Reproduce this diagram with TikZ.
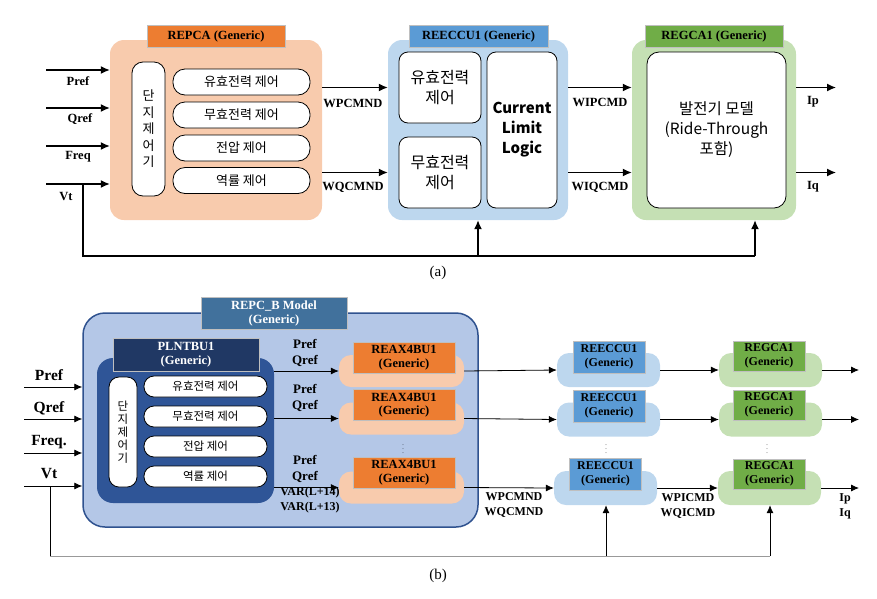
\documentclass[tikz,border=0pt]{standalone}
\usepackage{fontspec}
\setmainfont{Liberation Serif}
\newfontfamily\kor{Noto Sans CJK KR}
\usetikzlibrary{arrows.meta}

\definecolor{peach}{HTML}{F8CBAD}
\definecolor{orng}{HTML}{ED7D31}
\definecolor{skyb}{HTML}{BDD7EE}
\definecolor{midb}{HTML}{5B9BD5}
\definecolor{leaf}{HTML}{C5E0B4}
\definecolor{grn}{HTML}{70AD47}
\definecolor{pcfill}{HTML}{B4C7E7}
\definecolor{pcline}{HTML}{2F528F}
\definecolor{pctab}{HTML}{41719C}
\definecolor{plfill}{HTML}{2F5597}
\definecolor{pltab}{HTML}{203864}

\tikzset{
    panel/.style={rounded corners=14pt, inner sep=0pt, draw=none},
    tab/.style={draw=black!25, line width=0.6pt, inner sep=0pt, align=center,
        font=\bfseries\fontsize{12.5}{13.5}\selectfont},
    kbox/.style={draw=black, line width=0.8pt, fill=white, inner sep=0pt,
        align=center, font=\kor\fontsize{13}{16.5}\selectfont},
    lbl/.style={font=\bfseries\fontsize{12.5}{14}\selectfont, align=center},
    dotz/.style={inner sep=0pt, font=\fontsize{6}{6}\selectfont},
    arr/.style={line width=1.3pt, -{Latex[length=9pt,width=8pt]}},
    arrb/.style={line width=0.8pt, -{Latex[length=8pt,width=7pt]}},
}

\begin{document}
\begin{tikzpicture}[x=1pt,y=-1pt]
    \useasboundingbox (0,0) rectangle (877,598);

    % (a) REPCA
    \node[panel, fill=peach, minimum width=212pt, minimum height=180pt] (repca) at (216,130) {};
    \node[tab, fill=orng, minimum width=138pt, minimum height=22pt] (repcaT) at (216,36) {REPCA (Generic)};
    \node[kbox, rounded corners=11pt, minimum width=33pt, minimum height=134pt] (ctrlA) at (148.5,129)
        {단\\지\\제\\어\\기};
    \node[kbox, rounded corners=12pt, minimum width=137pt, minimum height=26pt] (a1) at (241.5,82) {유효전력 제어};
    \node[kbox, rounded corners=12pt, minimum width=137pt, minimum height=26pt] (a2) at (241.5,115) {무효전력 제어};
    \node[kbox, rounded corners=12pt, minimum width=137pt, minimum height=26pt] (a3) at (241.5,148) {전압 제어};
    \node[kbox, rounded corners=12pt, minimum width=137pt, minimum height=26pt] (a4) at (241.5,180.5) {역률 제어};

    % (a) REECCU1
    \node[panel, fill=skyb, minimum width=180pt, minimum height=180pt] (reeccu) at (478,130) {};
    \node[tab, fill=midb, minimum width=139pt, minimum height=22pt] (reeccuT) at (478.5,36) {REECCU1 (Generic)};
    \node[kbox, rounded corners=9pt, minimum width=82pt, minimum height=71pt,
        font=\kor\fontsize{16}{20}\selectfont] (pA) at (440,87.5) {유효전력\\제어};
    \node[kbox, rounded corners=9pt, minimum width=82pt, minimum height=71pt,
        font=\kor\fontsize{16}{20}\selectfont] (qA) at (440,172.5) {무효전력\\제어};
    \node[kbox, rounded corners=9pt, minimum width=70pt, minimum height=156pt,
        font=\kor\bfseries\fontsize{15}{20}\selectfont] (cll) at (522,130) {Current\\Limit\\Logic};

    % (a) REGCA1
    \node[panel, fill=leaf, minimum width=164pt, minimum height=180pt] (regca) at (714,130) {};
    \node[tab, fill=grn, minimum width=138pt, minimum height=22pt] (regcaT) at (714,36) {REGCA1 (Generic)};
    \node[kbox, rounded corners=12pt, minimum width=139pt, minimum height=156pt,
        font=\kor\fontsize{15.5}{20}\selectfont] (gen) at (716.5,130) {발전기 모델\\(Ride-Through\\포함)};

    % (a) signals
    \coordinate (inP) at (46,70);
    \coordinate (inQ) at (46,108);
    \coordinate (inF) at (46,146);
    \coordinate (inV) at (46,184);
    \draw[arr] (inP) -- (inP -| repca.west);
    \draw[arr] (inQ) -- (inQ -| repca.west);
    \draw[arr] (inF) -- (inF -| repca.west);
    \draw[arr] (inV) -- (inV -| repca.west);
    \node[lbl] (lP) at (78,81) {Pref};
    \node[lbl] (lQ) at (80,119) {Qref};
    \node[lbl] (lF) at (78,157) {Freq};
    \node[lbl] (lV) at (66,196) {Vt};

    \draw[arr] (repca.east |- pA) -- (reeccu.west |- pA);
    \draw[arr] (repca.east |- qA) -- (reeccu.west |- qA);
    \node[lbl] (lwp) at (353,103) {WPCMND};
    \node[lbl] (lwq) at (353,187) {WQCMND};
    \draw[arr] (reeccu.east |- pA) -- (regca.west |- pA);
    \draw[arr] (reeccu.east |- qA) -- (regca.west |- qA);
    \node[lbl] (lwip) at (600,102) {WIPCMD};
    \node[lbl] (lwiq) at (600,187) {WIQCMD};
    \coordinate (ipE) at (836,87.5);
    \coordinate (iqE) at (836,172.5);
    \draw[arr] (regca.east |- pA) -- (ipE);
    \draw[arr] (regca.east |- qA) -- (iqE);
    \node[lbl] (lip) at (813,102) {Ip};
    \node[lbl] (liq) at (813,187) {Iq};

    \coordinate (fbA) at (83,184);
    \coordinate (fbB) at (755,256);
    \coordinate (fbC) at (478,256);
    \draw[line width=1.3pt] (fbA) |- (fbB);
    \draw[arr] (fbB) -- (fbB |- regca.south);
    \draw[arr] (fbC) -- (fbC |- reeccu.south);
    \node[font=\fontsize{15}{16}\selectfont] (capA) at (438,273) {(a)};

    % (b) REPC_B
    \node[panel, rounded corners=22pt, fill=pcfill, draw=pcline, line width=1.5pt,
        minimum width=395pt, minimum height=214pt] (repcb) at (280.5,420) {};
    \node[tab, fill=pctab, text=white, minimum width=146pt, minimum height=32pt,
        font=\bfseries\fontsize{12.5}{14}\selectfont] (repcbT) at (274,313) {REPC\_B Model\\(Generic)};
    \node[panel, rounded corners=16pt, fill=plfill, minimum width=177pt, minimum height=145pt] (plnt) at (185.5,430.5) {};
    \node[tab, fill=pltab, text=white, minimum width=146pt, minimum height=33pt,
        font=\bfseries\fontsize{12.5}{14}\selectfont] (plntT) at (186,354.5) {PLNTBU1\\(Generic)};
    \node[kbox, rounded corners=10pt, minimum width=28pt, minimum height=110pt,
        font=\kor\fontsize{11.5}{13}\selectfont] (ctrlB) at (123,432) {단\\지\\제\\어\\기};
    \node[kbox, rounded corners=10pt, minimum width=123pt, minimum height=21pt,
        font=\kor\fontsize{11.5}{12}\selectfont] (b1) at (205.5,386.5) {유효전력 제어};
    \node[kbox, rounded corners=10pt, minimum width=123pt, minimum height=21pt,
        font=\kor\fontsize{11.5}{12}\selectfont] (b2) at (205.5,416.5) {무효전력 제어};
    \node[kbox, rounded corners=10pt, minimum width=123pt, minimum height=21pt,
        font=\kor\fontsize{11.5}{12}\selectfont] (b3) at (205.5,446.5) {전압 제어};
    \node[kbox, rounded corners=10pt, minimum width=123pt, minimum height=21pt,
        font=\kor\fontsize{11.5}{12}\selectfont] (b4) at (205.5,476.5) {역률 제어};

    % (b) REAX4BU1
    \node[panel, rounded corners=12pt, fill=peach, minimum width=125pt, minimum height=32pt] (rax1) at (401.5,371) {};
    \node[tab, fill=orng, minimum width=102pt, minimum height=31pt] (rax1T) at (404,357.5) {REAX4BU1\\(Generic)};
    \node[panel, rounded corners=12pt, fill=peach, minimum width=125pt, minimum height=32pt] (rax2) at (401.5,418.5) {};
    \node[tab, fill=orng, minimum width=102pt, minimum height=31pt] (rax2T) at (404,405) {REAX4BU1\\(Generic)};
    \node[panel, rounded corners=12pt, fill=peach, minimum width=125pt, minimum height=32pt] (rax3) at (401.5,487.5) {};
    \node[tab, fill=orng, minimum width=102pt, minimum height=31pt] (rax3T) at (404,472.5) {REAX4BU1\\(Generic)};
    \node[dotz] (dot1) at (403,446) {$\vdots$};

    % (b) REECCU1
    \node[panel, rounded corners=12pt, fill=skyb, minimum width=103pt, minimum height=34pt] (rec1) at (608.5,370) {};
    \node[tab, fill=midb, minimum width=72pt, minimum height=32pt, font=\bfseries\fontsize{12}{13.5}\selectfont] (rec1T) at (609,357) {REECCU1\\(Generic)};
    \node[panel, rounded corners=12pt, fill=skyb, minimum width=103pt, minimum height=34pt] (rec2) at (608.5,419.5) {};
    \node[tab, fill=midb, minimum width=72pt, minimum height=32pt, font=\bfseries\fontsize{12}{13.5}\selectfont] (rec2T) at (609,406) {REECCU1\\(Generic)};
    \node[panel, rounded corners=12pt, fill=skyb, minimum width=103pt, minimum height=34pt] (rec3) at (605.5,488) {};
    \node[tab, fill=midb, minimum width=72pt, minimum height=32pt, font=\bfseries\fontsize{12}{13.5}\selectfont] (rec3T) at (605.5,474) {REECCU1\\(Generic)};
    \node[dotz] (dot2) at (606,446) {$\vdots$};

    % (b) REGCA1
    \node[panel, rounded corners=12pt, fill=leaf, minimum width=103pt, minimum height=34pt] (gc1) at (770.5,370) {};
    \node[tab, fill=grn, minimum width=72pt, minimum height=30pt, font=\bfseries\fontsize{12}{13.5}\selectfont] (gc1T) at (769,356) {REGCA1\\(Generic)};
    \node[panel, rounded corners=12pt, fill=leaf, minimum width=103pt, minimum height=34pt] (gc2) at (770.5,419.5) {};
    \node[tab, fill=grn, minimum width=72pt, minimum height=30pt, font=\bfseries\fontsize{12}{13.5}\selectfont] (gc2T) at (769,405) {REGCA1\\(Generic)};
    \node[panel, rounded corners=12pt, fill=leaf, minimum width=103pt, minimum height=34pt] (gc3) at (769.5,488) {};
    \node[tab, fill=grn, minimum width=72pt, minimum height=30pt, font=\bfseries\fontsize{12}{13.5}\selectfont] (gc3T) at (769.5,474) {REGCA1\\(Generic)};
    \node[dotz] (dot3) at (767,446) {$\vdots$};

    % (b) signals
    \coordinate (jnP) at (24,387);
    \coordinate (jnQ) at (24,419);
    \coordinate (jnF) at (24,453);
    \coordinate (jnV) at (24,486);
    \draw[arrb] (jnP) -- (jnP -| repcb.west);
    \draw[arrb] (jnQ) -- (jnQ -| repcb.west);
    \draw[arrb] (jnF) -- (jnF -| repcb.west);
    \draw[arrb] (jnV) -- (jnV -| repcb.west);
    \node[lbl, font=\bfseries\fontsize{15.5}{16}\selectfont] (mP) at (49,375) {Pref};
    \node[lbl, font=\bfseries\fontsize{15.5}{16}\selectfont] (mQ) at (49,408) {Qref};
    \node[lbl, font=\bfseries\fontsize{15.5}{16}\selectfont] (mF) at (49,442) {Freq.};
    \node[lbl, font=\bfseries\fontsize{15.5}{16}\selectfont] (mV) at (49,474) {Vt};

    \draw[arrb] (plnt.east |- rax1) -- (rax1.west);
    \draw[arrb] (plnt.east |- rax2) -- (rax2.west);
    \draw[arrb] (plnt.east |- rax3) -- (rax3.west);
    \node[lbl, font=\bfseries\fontsize{13}{16.5}\selectfont] (pq1) at (305,353) {Pref\\Qref};
    \node[lbl, font=\bfseries\fontsize{13}{16.5}\selectfont] (pq2) at (305,398) {Pref\\Qref};
    \node[lbl, font=\bfseries\fontsize{13}{16.5}\selectfont] (pq3) at (305,469) {Pref\\Qref};
    \node[lbl, font=\bfseries\fontsize{12}{15}\selectfont] (var) at (310,500) {VAR(L+14)\\VAR(L+13)};

    \draw[arrb] (rax1.east) -- (rec1.west);
    \draw[arrb] (rax2.east) -- (rec2.west);
    \draw[arrb] (rax3.east) -- (rec3.west);
    \node[lbl, font=\bfseries\fontsize{12}{15}\selectfont] (wpq) at (514,505) {WPCMND\\WQCMND};
    \draw[arrb] (rec1.east) -- (gc1.west);
    \draw[arrb] (rec2.east) -- (gc2.west);
    \draw[arrb] (rec3.east) -- (gc3.west);
    \node[lbl, font=\bfseries\fontsize{12}{15}\selectfont] (wipq) at (688,506) {WPICMD\\WQICMD};
    \coordinate (o1) at (859,370);
    \coordinate (o2) at (859,419.5);
    \coordinate (o3) at (859,488);
    \draw[arrb] (gc1.east) -- (o1);
    \draw[arrb] (gc2.east) -- (o2);
    \draw[arrb] (gc3.east) -- (o3);
    \node[lbl, font=\bfseries\fontsize{12}{15}\selectfont, align=left] (ipq) at (845,506) {Ip\\Iq};

    \coordinate (gbA) at (50,486);
    \coordinate (gbB) at (50,556);
    \coordinate (gbC) at (606,556);
    \coordinate (gbD) at (770,556);
    \draw[line width=0.8pt] (gbA) -- (gbB);
    \draw[line width=0.8pt, black!40] (gbB) -- (gbD);
    \draw[arrb] (gbC) -- (gbC |- rec3.south);
    \draw[arrb] (gbD) -- (gbD |- gc3.south);
    \node[font=\fontsize{15}{16}\selectfont] (capB) at (438,576) {(b)};
\end{tikzpicture}
\end{document}
